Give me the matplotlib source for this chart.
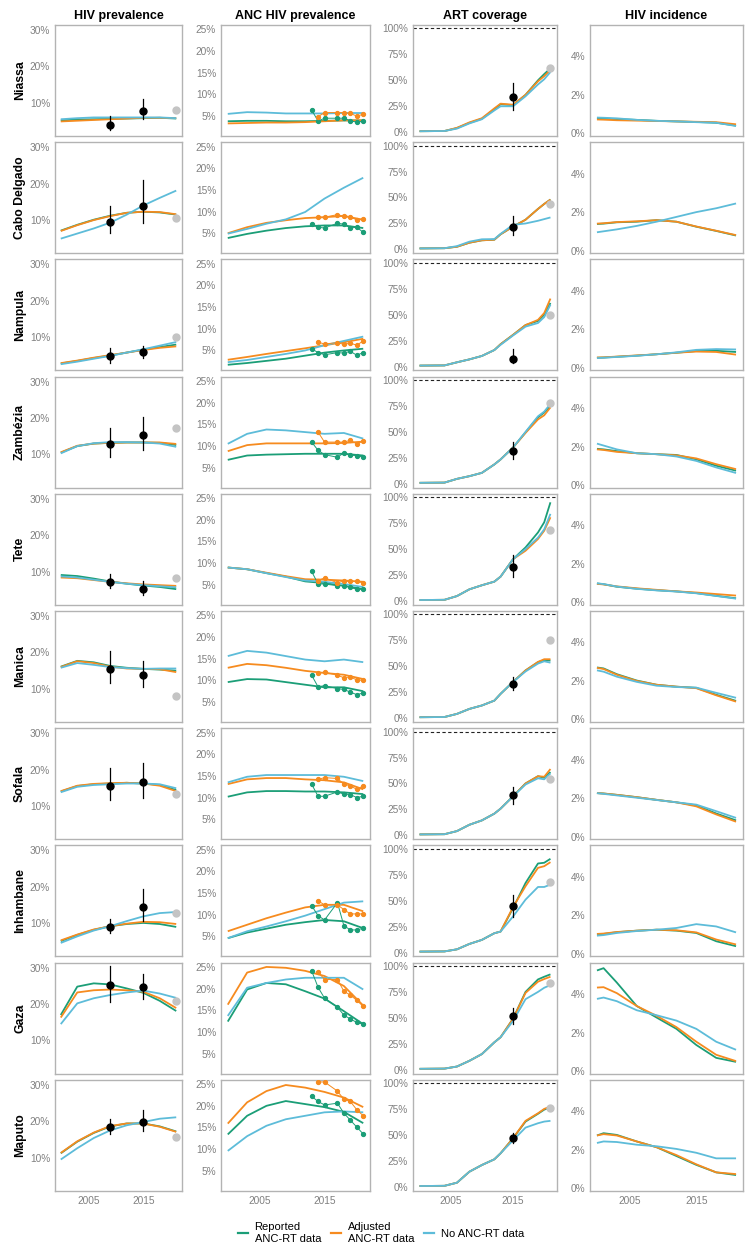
import matplotlib
matplotlib.use("Agg")
import matplotlib.pyplot as plt
from matplotlib.lines import Line2D

plt.rcParams['font.family'] = ['Liberation Sans', 'DejaVu Sans']

# ---------------- data ----------------
PROVINCES = ["Niassa", "Cabo Delgado", "Nampula", "Zambézia", "Tete",
             "Manica", "Sofala", "Inhambane", "Gaza", "Maputo"]
COLUMNS = ["HIV prevalence", "ANC HIV prevalence", "ART coverage", "HIV incidence"]
SERIES = ["Reported\nANC-RT data", "Adjusted\nANC-RT data", "No ANC-RT data"]

YEARS_SMOOTH = [2000, 2003, 2006, 2009, 2012, 2015, 2018, 2021]
YEARS_ART = [2000, 2004, 2006, 2008, 2010, 2012, 2013, 2015, 2017, 2019, 2020, 2021]
YEARS_INC = [2000, 2001, 2003, 2006, 2009, 2012, 2015, 2018, 2021]
ANC_YEARS_REP = [2013, 2014, 2015, 2017, 2018, 2019, 2020, 2021]
ANC_YEARS_ADJ = [2014, 2015, 2017, 2018, 2019, 2020, 2021]
SURVEY_YEARS = [2009, 2015]
ART_SURVEY_YEAR = 2015
LATEST_YEAR = 2021

# HIV prevalence (%)
PREV_REP = {
    "Niassa": [5.2, 5.4, 5.5, 5.6, 5.7, 5.8, 5.9, 5.7],
    "Cabo Delgado": [7.1, 8.7, 10.1, 11.2, 12.0, 12.3, 12.1, 11.5],
    "Nampula": [2.8, 3.5, 4.3, 5.0, 5.8, 6.6, 7.3, 8.0],
    "Zambézia": [10.5, 12.3, 13.0, 13.2, 13.3, 13.3, 13.2, 12.6],
    "Tete": [9.1, 8.8, 8.1, 7.3, 6.7, 6.2, 5.8, 5.2],
    "Manica": [16.1, 17.7, 17.3, 16.3, 15.8, 15.5, 15.3, 15.0],
    "Sofala": [14.0, 15.5, 16.0, 16.2, 16.4, 16.2, 15.8, 14.4],
    "Inhambane": [5.1, 6.8, 8.2, 9.2, 9.8, 10.1, 9.8, 9.0],
    "Gaza": [17.0, 24.8, 25.7, 25.4, 24.3, 23.1, 20.9, 18.1],
    "Maputo": [11.2, 14.4, 16.8, 18.6, 19.4, 19.4, 18.6, 17.2],
}
PREV_ADJ = {
    "Niassa": [4.9, 5.1, 5.3, 5.5, 5.7, 5.9, 5.9, 5.8],
    "Cabo Delgado": [7.0, 8.6, 10.0, 11.1, 12.0, 12.3, 12.2, 11.6],
    "Nampula": [2.9, 3.6, 4.4, 5.1, 5.8, 6.5, 7.1, 7.5],
    "Zambézia": [10.6, 12.4, 13.0, 13.2, 13.3, 13.3, 13.3, 12.9],
    "Tete": [8.4, 8.2, 7.7, 7.2, 6.8, 6.5, 6.3, 6.1],
    "Manica": [16.0, 17.6, 17.1, 16.1, 15.6, 15.5, 15.4, 14.6],
    "Sofala": [14.1, 15.6, 16.1, 16.3, 16.4, 16.2, 15.6, 14.1],
    "Inhambane": [5.3, 6.9, 8.3, 9.2, 9.9, 10.4, 10.3, 9.8],
    "Gaza": [16.3, 23.2, 23.8, 24.0, 23.8, 23.4, 21.6, 18.9],
    "Maputo": [11.3, 14.5, 16.9, 18.7, 19.4, 19.4, 18.5, 17.1],
}
PREV_NONE = {
    "Niassa": [5.5, 5.8, 6.0, 6.0, 6.0, 6.0, 6.0, 5.8],
    "Cabo Delgado": [4.9, 6.3, 7.7, 9.3, 11.5, 14.0, 16.1, 18.1],
    "Nampula": [2.6, 3.3, 4.1, 4.9, 5.8, 6.7, 7.7, 8.7],
    "Zambézia": [10.3, 12.3, 13.1, 13.4, 13.4, 13.3, 13.0, 12.1],
    "Tete": [8.7, 8.4, 7.8, 7.2, 6.7, 6.3, 6.0, 5.7],
    "Manica": [15.8, 17.1, 16.6, 16.0, 15.7, 15.5, 15.6, 15.6],
    "Sofala": [13.8, 15.3, 15.8, 16.0, 16.2, 16.2, 16.0, 14.9],
    "Inhambane": [4.6, 6.4, 8.0, 9.2, 10.6, 11.9, 12.8, 13.1],
    "Gaza": [14.5, 20.2, 21.6, 22.5, 23.2, 23.7, 22.9, 21.7],
    "Maputo": [9.5, 12.6, 15.4, 17.5, 18.9, 19.8, 20.7, 21.1],
}
# survey estimates: (mean, low, high) for 2009 and 2015
PREV_SURVEY = {
    "Niassa": [(3.8, 2.5, 6.3), (7.8, 5.5, 11.0)],
    "Cabo Delgado": [(9.4, 6.4, 13.9), (13.8, 9.1, 20.9)],
    "Nampula": [(4.8, 3.0, 7.1), (5.9, 4.4, 7.7)],
    "Zambézia": [(12.8, 9.2, 17.2), (15.3, 11.2, 20.4)],
    "Tete": [(7.1, 5.4, 9.4), (5.2, 3.6, 7.5)],
    "Manica": [(15.4, 11.7, 20.3), (13.7, 10.6, 17.6)],
    "Sofala": [(15.6, 11.8, 20.5), (16.5, 12.3, 21.8)],
    "Inhambane": [(9.0, 7.2, 11.2), (14.4, 10.6, 19.3)],
    "Gaza": [(25.3, 20.7, 30.5), (24.6, 21.4, 28.2)],
    "Maputo": [(18.4, 16.5, 20.7), (19.8, 17.2, 23.1)],
}
PREV_LATEST = {"Niassa": 8.0, "Cabo Delgado": 10.5, "Nampula": 10.0, "Zambézia": 17.2,
               "Tete": 8.4, "Manica": 8.1, "Sofala": 13.2, "Inhambane": 12.8,
               "Gaza": 20.9, "Maputo": 15.6}

# ANC HIV prevalence (%)
ANC_REP = {
    "Niassa": [3.8, 3.9, 3.9, 3.8, 3.8, 3.9, 4.0, 4.0],
    "Cabo Delgado": [3.9, 4.85, 5.6, 6.2, 6.6, 6.8, 6.8, 6.2],
    "Nampula": [1.7, 2.1, 2.6, 3.1, 3.8, 4.5, 5.0, 5.4],
    "Zambézia": [6.8, 7.8, 8.0, 8.1, 8.2, 8.2, 8.2, 7.8],
    "Tete": [9.0, 8.6, 7.7, 6.9, 5.8, 5.4, 4.8, 4.0],
    "Manica": [9.6, 10.3, 10.2, 9.6, 9.0, 8.4, 8.4, 7.5],
    "Sofala": [10.2, 11.2, 11.5, 11.5, 11.4, 11.4, 11.2, 10.8],
    "Inhambane": [4.6, 5.9, 6.8, 7.7, 8.3, 8.8, 8.5, 6.9],
    "Gaza": [12.4, 19.8, 21.3, 21.0, 19.4, 17.7, 14.8, 11.8],
    "Maputo": [13.4, 17.7, 20.0, 21.1, 20.4, 19.7, 18.6, 16.0],
}
ANC_ADJ = {
    "Niassa": [3.3, 3.4, 3.5, 3.5, 3.6, 3.8, 4.0, 4.0],
    "Cabo Delgado": [5.0, 6.4, 7.4, 8.0, 8.5, 8.7, 9.0, 8.1],
    "Nampula": [2.85, 3.5, 4.2, 4.85, 5.5, 6.2, 6.9, 7.7],
    "Zambézia": [8.8, 10.2, 10.6, 10.6, 10.6, 10.6, 10.7, 11.0],
    "Tete": [9.0, 8.6, 7.8, 7.0, 6.3, 6.2, 6.0, 5.7],
    "Manica": [12.9, 13.8, 13.5, 12.9, 12.2, 11.7, 11.3, 10.3],
    "Sofala": [13.1, 14.2, 14.5, 14.5, 14.2, 14.0, 13.5, 11.9],
    "Inhambane": [6.2, 7.7, 9.2, 10.5, 11.7, 12.3, 12.3, 10.8],
    "Gaza": [16.3, 23.7, 25.0, 24.8, 24.1, 22.9, 20.6, 16.1],
    "Maputo": [15.9, 20.8, 23.4, 24.8, 24.2, 23.2, 21.9, 19.7],
}
ANC_NONE = {
    "Niassa": [5.5, 5.9, 5.8, 5.6, 5.6, 5.6, 5.7, 5.7],
    "Cabo Delgado": [4.9, 6.0, 7.2, 8.2, 9.9, 13.0, 15.5, 17.8],
    "Nampula": [2.3, 2.8, 3.5, 4.2, 5.0, 6.2, 7.2, 8.2],
    "Zambézia": [10.5, 12.8, 13.8, 13.6, 13.2, 12.8, 13.0, 11.7],
    "Tete": [9.0, 8.6, 7.7, 6.8, 6.0, 5.7, 5.2, 4.5],
    "Manica": [15.6, 16.8, 16.4, 15.6, 14.8, 14.4, 14.8, 14.2],
    "Sofala": [13.5, 14.8, 15.2, 15.2, 15.2, 15.2, 14.8, 13.8],
    "Inhambane": [4.6, 6.2, 7.3, 8.5, 9.8, 11.3, 12.8, 13.1],
    "Gaza": [13.7, 20.2, 21.3, 22.1, 22.5, 22.5, 22.5, 19.8],
    "Maputo": [9.6, 13.0, 15.4, 16.9, 17.7, 18.5, 18.7, 18.5],
}
ANC_DATA_REP = {
    "Niassa": [6.4, 3.85, 4.5, 4.5, 4.5, 3.9, 3.6, 3.8],
    "Cabo Delgado": [7.1, 6.4, 6.2, 7.3, 7.1, 6.2, 6.4, 5.2],
    "Nampula": [5.4, 4.5, 4.0, 4.5, 4.4, 4.8, 3.9, 4.5],
    "Zambézia": [10.9, 9.0, 8.0, 7.4, 8.4, 7.9, 7.8, 7.4],
    "Tete": [8.1, 5.2, 5.2, 4.8, 4.8, 4.4, 4.0, 4.0],
    "Manica": [11.2, 8.5, 8.8, 8.1, 7.9, 7.3, 6.7, 7.1],
    "Sofala": [13.1, 10.3, 10.3, 11.3, 10.8, 10.7, 10.0, 10.3],
    "Inhambane": [12.1, 9.8, 8.8, 12.8, 7.5, 6.5, 6.5, 6.9],
    "Gaza": [24.1, 20.3, 17.8, 15.7, 13.9, 13.0, 12.2, 11.8],
    "Maputo": [22.2, 21.0, 20.2, 20.6, 18.3, 16.7, 15.1, 13.5],
}
ANC_DATA_ADJ = {
    "Niassa": [4.85, 5.8, 5.8, 5.8, 5.6, 5.0, 5.4],
    "Cabo Delgado": [8.7, 8.7, 9.3, 8.9, 8.7, 8.1, 8.3],
    "Nampula": [6.9, 6.5, 6.8, 6.4, 6.7, 6.2, 7.2],
    "Zambézia": [13.2, 10.9, 10.9, 10.9, 11.3, 10.5, 11.2],
    "Tete": [6.0, 6.6, 5.5, 5.9, 5.8, 5.8, 5.5],
    "Manica": [11.7, 11.9, 11.2, 10.6, 10.8, 10.1, 10.0],
    "Sofala": [14.2, 14.6, 14.4, 13.1, 12.7, 11.9, 12.7],
    "Inhambane": [13.2, 12.3, 12.3, 11.2, 10.2, 10.2, 10.2],
    "Gaza": [23.9, 22.1, 22.1, 19.4, 18.5, 17.3, 15.9],
    "Maputo": [25.5, 25.5, 23.4, 21.5, 21.0, 19.1, 17.7],
}

# ART coverage (%)
ART_REP = {
    "Niassa": [1, 1.2, 4.0, 9.0, 13.0, 22.0, 27.0, 26.0, 36.0, 50.0, 56.0, 61.5],
    "Cabo Delgado": [1, 1.2, 2.6, 6.5, 8.8, 9.4, 14.6, 22.0, 28.6, 39.0, 43.8, 48.0],
    "Nampula": [1, 1.2, 4.2, 7.0, 10.3, 16.0, 21.6, 30.6, 40.0, 44.0, 50.0, 61.3],
    "Zambézia": [1, 1.2, 4.8, 7.4, 10.6, 18.7, 23.5, 35.0, 49.5, 64.0, 68.7, 75.0],
    "Tete": [1, 1.2, 4.8, 11.3, 15.2, 18.7, 23.5, 40.3, 51.6, 66.0, 75.8, 95.0],
    "Manica": [1, 1.2, 4.2, 9.0, 12.3, 17.0, 23.5, 35.0, 46.0, 54.0, 56.0, 55.5],
    "Sofala": [1, 1.2, 4.2, 10.3, 14.5, 21.0, 25.8, 37.7, 50.0, 57.0, 55.5, 61.0],
    "Inhambane": [1, 1.2, 3.2, 8.4, 12.3, 18.7, 20.3, 42.9, 67.0, 85.8, 86.5, 90.3],
    "Gaza": [1, 1.2, 3.2, 8.7, 15.2, 26.5, 31.4, 49.2, 75.0, 87.0, 89.6, 91.9],
    "Maputo": [1, 1.2, 4.2, 14.8, 21.2, 26.7, 32.5, 47.0, 63.0, 70.5, 74.5, 76.8],
}
ART_ADJ = {
    "Niassa": [1, 1.2, 4.3, 9.5, 13.5, 23.0, 27.5, 26.5, 36.0, 49.0, 54.0, 60.0],
    "Cabo Delgado": [1, 1.2, 2.6, 6.5, 8.8, 9.4, 14.6, 22.0, 28.6, 39.0, 43.8, 48.0],
    "Nampula": [1, 1.2, 4.2, 7.0, 10.3, 16.0, 21.6, 30.6, 40.0, 45.0, 51.6, 65.5],
    "Zambézia": [1, 1.2, 4.8, 7.4, 10.6, 18.7, 23.5, 35.0, 49.0, 62.0, 66.0, 73.6],
    "Tete": [1, 1.2, 4.8, 11.3, 15.2, 18.7, 23.5, 40.3, 48.4, 59.7, 67.7, 80.6],
    "Manica": [1, 1.2, 4.2, 9.0, 12.3, 17.0, 23.5, 35.0, 46.0, 54.2, 56.8, 56.8],
    "Sofala": [1, 1.2, 4.2, 10.3, 14.5, 21.0, 25.8, 37.7, 50.0, 57.0, 56.5, 63.9],
    "Inhambane": [1, 1.2, 3.2, 8.4, 12.3, 18.7, 20.3, 43.9, 63.9, 81.6, 83.2, 87.1],
    "Gaza": [1, 1.2, 3.2, 8.7, 15.2, 26.5, 31.4, 49.2, 74.0, 84.8, 87.4, 89.6],
    "Maputo": [1, 1.2, 4.2, 14.8, 21.2, 26.7, 32.5, 47.0, 63.7, 71.0, 75.2, 77.5],
}
ART_NONE = {
    "Niassa": [1, 1.2, 3.5, 8.5, 12.5, 21.0, 25.0, 25.0, 34.6, 46.0, 51.0, 58.0],
    "Cabo Delgado": [1, 1.2, 3.2, 7.5, 9.8, 10.0, 15.0, 23.7, 25.0, 27.6, 29.2, 30.8],
    "Nampula": [1, 1.2, 4.2, 7.0, 10.3, 16.0, 21.0, 30.0, 38.5, 42.0, 47.7, 59.7],
    "Zambézia": [1, 1.2, 4.8, 7.4, 10.6, 18.7, 23.5, 35.0, 50.0, 65.0, 69.5, 77.0],
    "Tete": [1, 1.2, 4.8, 11.3, 15.2, 18.7, 23.5, 40.3, 50.0, 61.0, 69.0, 83.9],
    "Manica": [1, 1.2, 4.2, 9.0, 12.3, 17.0, 23.5, 35.0, 45.0, 52.6, 54.8, 53.5],
    "Sofala": [1, 1.2, 4.2, 10.3, 14.5, 21.0, 25.8, 37.7, 49.0, 55.0, 54.0, 59.7],
    "Inhambane": [1, 1.2, 3.2, 8.4, 12.3, 18.7, 20.3, 34.8, 51.0, 63.2, 63.2, 65.5],
    "Gaza": [1, 1.2, 3.2, 8.7, 15.2, 26.5, 31.4, 47.0, 68.0, 75.0, 79.0, 81.6],
    "Maputo": [1, 1.2, 4.2, 14.8, 21.2, 26.7, 32.5, 45.0, 57.2, 61.4, 63.0, 63.7],
}
ART_SURVEY = {
    "Niassa": (33.7, 21.5, 47.8), "Cabo Delgado": (21.8, 14.0, 32.5),
    "Nampula": (7.1, 3.2, 16.8), "Zambézia": (31.6, 24.2, 40.3),
    "Tete": (32.9, 23.5, 44.2), "Manica": (33.2, 26.8, 39.7),
    "Sofala": (38.7, 30.0, 46.8), "Inhambane": (45.2, 34.2, 55.8),
    "Gaza": (51.8, 44.3, 59.5), "Maputo": (47.6, 42.1, 51.8),
}
ART_LATEST = {"Niassa": 62.0, "Cabo Delgado": 43.8, "Nampula": 50.0, "Zambézia": 77.7,
              "Tete": 68.4, "Manica": 75.2, "Sofala": 53.9, "Inhambane": 68.0,
              "Gaza": 83.8, "Maputo": 76.5}

# HIV incidence (%)
INC_REP = {
    "Niassa": [0.78, 0.77, 0.74, 0.70, 0.65, 0.62, 0.59, 0.55, 0.40],
    "Cabo Delgado": [1.38, 1.40, 1.47, 1.50, 1.58, 1.50, 1.24, 1.02, 0.78],
    "Nampula": [0.52, 0.53, 0.57, 0.63, 0.70, 0.78, 0.87, 0.88, 0.82],
    "Zambézia": [1.88, 1.85, 1.76, 1.65, 1.60, 1.56, 1.33, 1.00, 0.74],
    "Tete": [0.97, 0.93, 0.80, 0.70, 0.62, 0.56, 0.47, 0.33, 0.20],
    "Manica": [2.70, 2.65, 2.35, 2.02, 1.80, 1.70, 1.64, 1.28, 0.96],
    "Sofala": [2.26, 2.24, 2.17, 2.05, 1.91, 1.78, 1.62, 1.20, 0.84],
    "Inhambane": [1.00, 1.03, 1.12, 1.20, 1.25, 1.20, 1.08, 0.65, 0.39],
    "Gaza": [5.23, 5.35, 4.60, 3.38, 2.78, 2.19, 1.35, 0.68, 0.47],
    "Maputo": [2.74, 2.86, 2.77, 2.43, 2.13, 1.67, 1.21, 0.82, 0.68],
}
INC_ADJ = {
    "Niassa": [0.72, 0.71, 0.68, 0.66, 0.64, 0.62, 0.60, 0.58, 0.47],
    "Cabo Delgado": [1.40, 1.42, 1.48, 1.52, 1.58, 1.50, 1.25, 1.03, 0.80],
    "Nampula": [0.53, 0.54, 0.58, 0.64, 0.70, 0.78, 0.84, 0.82, 0.68],
    "Zambézia": [1.85, 1.82, 1.72, 1.65, 1.60, 1.54, 1.38, 1.08, 0.82],
    "Tete": [0.95, 0.92, 0.82, 0.72, 0.64, 0.56, 0.50, 0.42, 0.34],
    "Manica": [2.68, 2.62, 2.32, 2.00, 1.80, 1.70, 1.62, 1.25, 0.92],
    "Sofala": [2.26, 2.24, 2.17, 2.05, 1.91, 1.78, 1.57, 1.15, 0.77],
    "Inhambane": [1.03, 1.05, 1.13, 1.20, 1.25, 1.22, 1.11, 0.74, 0.48],
    "Gaza": [4.34, 4.36, 4.05, 3.38, 2.87, 2.28, 1.52, 0.84, 0.51],
    "Maputo": [2.74, 2.81, 2.74, 2.43, 2.13, 1.72, 1.24, 0.82, 0.73],
}
INC_NONE = {
    "Niassa": [0.82, 0.81, 0.78, 0.70, 0.65, 0.62, 0.58, 0.55, 0.38],
    "Cabo Delgado": [0.95, 1.00, 1.10, 1.28, 1.50, 1.75, 2.00, 2.20, 2.45],
    "Nampula": [0.50, 0.52, 0.56, 0.62, 0.70, 0.80, 0.93, 0.97, 0.95],
    "Zambézia": [2.15, 2.05, 1.85, 1.65, 1.60, 1.48, 1.25, 0.91, 0.62],
    "Tete": [0.98, 0.94, 0.81, 0.69, 0.61, 0.55, 0.46, 0.32, 0.18],
    "Manica": [2.55, 2.48, 2.22, 1.95, 1.75, 1.68, 1.65, 1.38, 1.12],
    "Sofala": [2.26, 2.22, 2.14, 2.02, 1.90, 1.78, 1.66, 1.32, 0.97],
    "Inhambane": [0.94, 0.97, 1.08, 1.18, 1.25, 1.34, 1.54, 1.42, 1.11],
    "Gaza": [3.75, 3.82, 3.63, 3.16, 2.90, 2.62, 2.19, 1.52, 1.10],
    "Maputo": [2.35, 2.43, 2.40, 2.26, 2.18, 2.04, 1.84, 1.55, 1.55],
}

# ---------------- style ----------------
C_REP = "#1B9E77"
C_ADJ = "#F68B1F"
C_NONE = "#5DBCD9"
COLORS = [C_REP, C_ADJ, C_NONE]
C_GREY_PT = "#C4C4C4"
C_SPINE = "#B3B3B3"
C_TICK = "#808080"

W, H = 756, 1257
fig = plt.figure(figsize=(W / 100, H / 100), dpi=100)

COL_X = [(55, 182), (221, 370), (413, 557), (590, 743)]
ROW_TOP0, ROW_PITCH, ROW_H = 25, 117.2, 111

YLIMS = [(0.9, 31.4), (0.4, 26.0), (-3.6, 103.2), (-0.14, 5.64)]
YTICKS = [[10, 20, 30], [5, 10, 15, 20, 25], [0, 25, 50, 75, 100], [0, 2, 4]]
XLIM = (1998.95, 2022.05)

def make_ax(r, c):
    x0, x1 = COL_X[c]
    top = ROW_TOP0 + ROW_PITCH * r
    ax = fig.add_axes([x0 / W, 1 - (top + ROW_H) / H, (x1 - x0) / W, ROW_H / H])
    ax.set_xlim(*XLIM)
    ax.set_ylim(*YLIMS[c])
    ax.set_yticks(YTICKS[c])
    ax.set_yticklabels([f"{t}%" for t in YTICKS[c]])
    ax.set_xticks([2005, 2015])
    if r == len(PROVINCES) - 1:
        ax.set_xticklabels(["2005", "2015"])
    else:
        ax.set_xticklabels([])
    ax.tick_params(length=0, labelsize=7.3, colors=C_TICK, pad=3.5)
    for s in ax.spines.values():
        s.set_color(C_SPINE)
        s.set_linewidth(1.0)
    return ax, top

def model_lines(ax, years, series):
    for vals, col in zip(series, COLORS):
        ax.plot(years, vals, color=col, lw=1.3, solid_capstyle="butt", zorder=2)

def survey(ax, years, triples):
    for yr, (m, lo, hi) in zip(years, triples):
        ax.plot([yr, yr], [lo, hi], color="black", lw=0.9, zorder=5)
        ax.plot([yr], [m], "o", color="black", ms=5, zorder=6)

for r, prov in enumerate(PROVINCES):
    # HIV prevalence
    ax, top = make_ax(r, 0)
    model_lines(ax, YEARS_SMOOTH, [PREV_REP[prov], PREV_ADJ[prov], PREV_NONE[prov]])
    survey(ax, SURVEY_YEARS, PREV_SURVEY[prov])
    ax.plot([LATEST_YEAR], [PREV_LATEST[prov]], "o", color=C_GREY_PT, ms=5, zorder=4)
    fig.text(20 / W, 1 - (top + ROW_H / 2) / H, prov, rotation=90,
             ha="center", va="center", fontsize=8.8, fontweight="bold")
    if r == 0:
        ax.set_title(COLUMNS[0], fontsize=9, fontweight="bold", pad=4)

    # ANC HIV prevalence
    ax, _ = make_ax(r, 1)
    model_lines(ax, YEARS_SMOOTH, [ANC_REP[prov], ANC_ADJ[prov], ANC_NONE[prov]])
    ax.plot(ANC_YEARS_REP, ANC_DATA_REP[prov], "-o", color=C_REP, lw=0.7, ms=2.8, zorder=4)
    ax.plot(ANC_YEARS_ADJ, ANC_DATA_ADJ[prov], "-o", color=C_ADJ, lw=0.7, ms=2.8, zorder=4)
    if r == 0:
        ax.set_title(COLUMNS[1], fontsize=9, fontweight="bold", pad=4)

    # ART coverage
    ax, _ = make_ax(r, 2)
    ax.axhline(100, color="#222222", lw=0.8, ls=(0, (3, 2.2)), zorder=1)
    model_lines(ax, YEARS_ART, [ART_REP[prov], ART_ADJ[prov], ART_NONE[prov]])
    survey(ax, [ART_SURVEY_YEAR], [ART_SURVEY[prov]])
    ax.plot([LATEST_YEAR], [ART_LATEST[prov]], "o", color=C_GREY_PT, ms=5, zorder=4)
    if r == 0:
        ax.set_title(COLUMNS[2], fontsize=9, fontweight="bold", pad=4)

    # HIV incidence
    ax, _ = make_ax(r, 3)
    model_lines(ax, YEARS_INC, [INC_REP[prov], INC_ADJ[prov], INC_NONE[prov]])
    if r == 0:
        ax.set_title(COLUMNS[3], fontsize=9, fontweight="bold", pad=4)

handles = [Line2D([0], [0], color=c, lw=1.6) for c in COLORS]
fig.legend(handles, SERIES, loc="center", bbox_to_anchor=(381 / W, 1 - 1233 / H),
           ncol=3, frameon=False, fontsize=8, handlelength=0.9, handletextpad=0.6,
           columnspacing=0.9)

fig.savefig("out.png", dpi=100)
